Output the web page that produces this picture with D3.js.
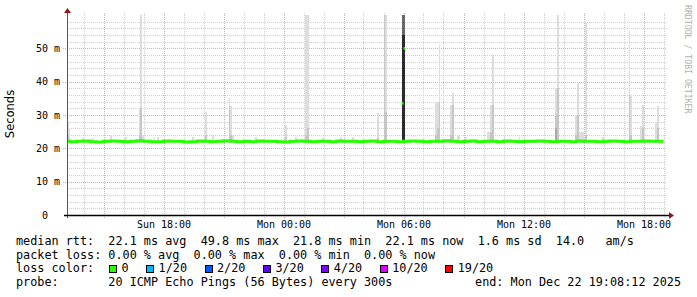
<!DOCTYPE html>
<html>
<head>
<meta charset="utf-8">
<script src="https://cdn.jsdelivr.net/npm/d3@7"></script>
<style>
body { margin: 0; background: #fff; }
text { font-family: "DejaVu Sans Mono", monospace; fill: #000; }
</style>
</head>
<body>
<svg id="chart" width="697" height="297"></svg>
<script>
// time window shown on the x axis
var rangeStart = "Sun 13:10:30";
var rangeEnd = "Mon 19:10:30";
var stepMinutes = 5;

var yTicks = [0, 10, 20, 30, 40, 50];
var xLabels = ["Sun 18:00", "Mon 00:00", "Mon 06:00", "Mon 12:00", "Mon 18:00"];

// median rtt in ms, one value per 20 minutes starting Sun 13:00
var medianStart = "Sun 13:00";
var medianEnd = "Mon 19:00";
var medianMs = [
  22.1, 22.0, 22.1, 22.2, 22.0, 21.9, 22.1, 22.2, 22.1, 22.0,
  22.1, 22.3, 22.1, 22.0, 22.0, 22.2, 22.1, 22.1, 21.9, 22.0,
  22.2, 22.1, 22.0, 22.1, 22.3, 22.1, 22.0, 22.1, 22.0, 22.2,
  22.1, 22.1, 22.0, 21.9, 22.1, 22.2, 22.1, 22.0, 22.1, 22.1,
  22.0, 22.2, 22.1, 22.1, 22.0, 22.1, 22.2, 22.0, 22.1, 22.1,
  22.0, 22.1, 22.2, 22.1, 22.0, 22.1, 22.1, 22.3, 22.1, 22.0,
  22.1, 22.2, 22.0, 22.1, 22.1, 22.0, 22.2, 22.1, 22.0, 22.1,
  22.1, 22.2, 22.1, 22.0, 22.1, 22.1, 22.0, 22.2, 22.1, 22.1,
  22.0, 22.1, 22.2, 22.1, 22.0, 22.1, 22.1, 22.2, 22.1, 22.1
];

// 5 minute medians that jump off the line
var medianJumpTime = ["Mon 06:00", "Mon 06:05"];
var medianJumpMs = [33.5, 50];

// smoke: sample end time and the top of each density band (ms), outer band first
var smokeFloorMs = 21.8;
var smokeTime = [
  "Sun 13:15", "Sun 13:20", "Sun 14:00", "Sun 14:30", "Sun 15:25", "Sun 16:10",
  "Sun 16:50", "Sun 16:55", "Sun 17:00", "Sun 17:35", "Sun 17:45", "Sun 18:05",
  "Sun 19:30", "Sun 20:05", "Sun 20:10", "Sun 20:30", "Sun 21:20", "Sun 21:25",
  "Sun 21:30", "Sun 22:40", "Mon 00:10", "Mon 00:40", "Mon 01:10", "Mon 01:15",
  "Mon 02:00", "Mon 02:55", "Mon 03:30", "Mon 04:45", "Mon 05:05", "Mon 05:10",
  "Mon 06:00", "Mon 06:05", "Mon 07:40", "Mon 07:45", "Mon 07:50", "Mon 08:25",
  "Mon 08:30", "Mon 08:45", "Mon 08:50", "Mon 09:10", "Mon 10:15", "Mon 10:20",
  "Mon 10:25", "Mon 10:30", "Mon 11:05", "Mon 11:50", "Mon 13:40", "Mon 13:45",
  "Mon 14:40", "Mon 14:45", "Mon 14:50", "Mon 14:55", "Mon 15:00", "Mon 15:10",
  "Mon 16:00", "Mon 17:20", "Mon 17:25", "Mon 17:55", "Mon 18:00", "Mon 18:05",
  "Mon 18:40", "Mon 18:45"
];
var smokeBands = [
  [28, 24], [26], [23], [23.2], [24], [23.5],
  [32, 24], [60, 32], [24], [23.5], [23.5], [24],
  [23.3], [24], [31, 24], [24], [35, 32.6], [32.6, 24],
  [24], [23.4], [27, 23.5], [23.3], [60, 24], [60, 26],
  [23.2], [23.5], [23.3], [30.5, 23], [60, 60], [60, 31],
  [60, 60, 60, 60, 54], [60, 60, 60, 60, 54], [34, 24], [34, 26], [51, 34], [33, 24],
  [36.5, 33], [24], [24], [23.5], [25], [25],
  [33, 25], [48, 33], [24], [23.3], [38, 30, 26], [60, 38],
  [30, 24], [40, 30], [25], [25], [25], [57.6, 24],
  [23.4], [55.6, 36], [36, 24], [26.6], [33, 26], [26],
  [28], [32.6, 26]
];

// legend values
var rttStats = ["22.1 ms avg", "49.8 ms max", "21.8 ms min", "22.1 ms now", "1.6 ms sd"];
var amPerSec = "14.0";
var lossStats = ["0.00 % avg", "0.00 % max", "0.00 % min", "0.00 % now"];
var lossLabels = ["0", "1/20", "2/20", "3/20", "4/20", "10/20", "19/20"];
var lossColors = ["#26ff00", "#00b8ff", "#0059ff", "#5e00ff", "#7e00ff", "#dd00ff", "#ff0000"];
var probeText = "20 ICMP Echo Pings (56 Bytes) every 300s";
var endText = "end: Mon Dec 22 19:08:12 2025";

var bandColors = ["#dddddd", "#c6c6c6", "#a8a8a8", "#686868", "#2b2b2b"];

var fullParse = d3.timeParse("%Y-%m-%d %H:%M:%S");
function parseT(s) {
  var p = s.split(" ");
  var hm = p[1].length === 5 ? p[1] + ":00" : p[1];
  return fullParse((p[0] === "Sun" ? "2025-12-21 " : "2025-12-22 ") + hm);
}

var plotLeft = 67, plotRight = 667, plotTop = 15, plotBottom = 215;

var x = d3.scaleTime().domain([parseT(rangeStart), parseT(rangeEnd)]).range([plotLeft, plotRight]);
var y = d3.scaleLinear().domain([0, 60]).range([plotBottom, plotTop]);

var svg = d3.select("#chart");

svg.append("defs").append("clipPath").attr("id", "plot")
  .append("rect").attr("x", plotLeft).attr("y", plotTop)
  .attr("width", plotRight - plotLeft).attr("height", plotBottom - plotTop);

// grid
var grid = svg.append("g").attr("shape-rendering", "crispEdges");
var hours = d3.timeHour.range(x.domain()[0], x.domain()[1]);
grid.selectAll("line.v").data(hours).enter().append("line")
  .attr("x1", function(d) { return Math.round(x(d)) + 0.5; })
  .attr("x2", function(d) { return Math.round(x(d)) + 0.5; })
  .attr("y1", 13).attr("y2", 218)
  .attr("stroke", function(d) { return d.getHours() % 3 === 0 ? "#dfa9a9" : "#cfcfcf"; })
  .attr("stroke-dasharray", "1,1");

var yMinor = d3.range(2, 60, 2);
grid.selectAll("line.h").data(yMinor).enter().append("line")
  .attr("x1", function(d) { return d % 10 === 0 ? plotLeft - 4 : plotLeft; })
  .attr("x2", plotRight)
  .attr("y1", function(d) { return Math.round(y(d)) + 0.5; })
  .attr("y2", function(d) { return Math.round(y(d)) + 0.5; })
  .attr("stroke", function(d) { return d % 10 === 0 ? "#dfa9a9" : "#cfcfcf"; })
  .attr("stroke-dasharray", "1,1");

// smoke
var plot = svg.append("g").attr("clip-path", "url(#plot)");
var smoke = plot.append("g").attr("shape-rendering", "crispEdges");
smokeTime.forEach(function(t, i) {
  var tEnd = parseT(t);
  var tStart = d3.timeMinute.offset(tEnd, -stepMinutes);
  smoke.selectAll(null).data(smokeBands[i]).enter().append("rect")
    .attr("x", x(tStart))
    .attr("width", x(tEnd) - x(tStart))
    .attr("y", function(v) { return y(v); })
    .attr("height", function(v) { return y(smokeFloorMs) - y(v); })
    .attr("fill", function(v, k) { return bandColors[k]; });
});

// median line
var medianPts = medianMs.map(function(v, i) {
  return [d3.timeMinute.offset(parseT(medianStart), i * 20), v];
});
medianPts.push([parseT(medianEnd), medianMs[medianMs.length - 1]]);
var line = d3.line()
  .x(function(d) { return x(d[0]); })
  .y(function(d) { return y(d[1]); })
  .curve(d3.curveStepAfter);
plot.append("path").datum(medianPts)
  .attr("d", line)
  .attr("fill", "none")
  .attr("stroke", lossColors[0])
  .attr("stroke-width", 3);

plot.selectAll("line.jump").data(medianJumpTime).enter().append("line")
  .attr("x1", function(t) { return x(d3.timeMinute.offset(parseT(t), -stepMinutes)); })
  .attr("x2", function(t) { return x(parseT(t)); })
  .attr("y1", function(t, i) { return y(medianJumpMs[i]); })
  .attr("y2", function(t, i) { return y(medianJumpMs[i]); })
  .attr("stroke", lossColors[0])
  .attr("stroke-width", 2.5);

// axes lines
svg.append("line").attr("x1", plotLeft + 0.5).attr("x2", plotLeft + 0.5).attr("y1", 12).attr("y2", plotBottom + 3)
  .attr("stroke", "#555").attr("shape-rendering", "crispEdges");
svg.append("line").attr("x1", plotLeft - 3).attr("x2", plotRight + 3)
  .attr("y1", plotBottom + 0.5).attr("y2", plotBottom + 0.5)
  .attr("stroke", "#000").attr("stroke-width", 1.5);
svg.append("path").attr("d", "M64,13L67.5,8L71,13Z").attr("fill", "#8b1c1c");
svg.append("path").attr("d", "M669,212L674,215.5L669,219Z").attr("fill", "#8b1c1c");

// y axis labels
var yAxis = svg.append("g").attr("transform", "translate(" + plotLeft + ",0)")
  .call(d3.axisLeft(y).tickValues(yTicks).tickSize(0).tickPadding(7)
    .tickFormat(function(d) { return d === 0 ? "0  " : d + " m"; }));
yAxis.select(".domain").remove();
yAxis.attr("font-family", null).attr("font-size", null);
yAxis.selectAll("text").style("white-space", "pre").attr("font-size", 10);

// x axis labels
var xAxis = svg.append("g").attr("transform", "translate(0," + plotBottom + ")")
  .call(d3.axisBottom(x).tickValues(xLabels.map(parseT)).tickSize(0).tickPadding(5.5)
    .tickFormat(d3.timeFormat("%a %H:%M")));
xAxis.select(".domain").remove();
xAxis.attr("font-family", null).attr("font-size", null);
xAxis.selectAll("text").attr("font-size", 10);

svg.append("text")
  .attr("transform", "translate(14,114) rotate(-90)")
  .attr("text-anchor", "middle")
  .style("font-family", "'DejaVu Sans', sans-serif")
  .attr("font-size", 11.5)
  .text("Seconds");

svg.append("text")
  .attr("transform", "translate(685,5) rotate(90)")
  .attr("font-size", 8.2)
  .style("fill", "#b0b0b0")
  .text("RRDTOOL / TOBI OETIKER");

// legend
var cw = 7.1, fs = 11.8, lx = 16;
var legend = svg.append("g").attr("font-size", fs);
function legendLine(yy, s) {
  legend.append("text").attr("x", lx).attr("y", yy).style("white-space", "pre").text(s);
}
legendLine(245, "median rtt:  " + rttStats.join("  ") + "  " + amPerSec + "   am/s");
legendLine(258.5, "packet loss: " + lossStats.join("  "));
legendLine(272.3, "loss color:");
legendLine(286, "probe:       " + probeText);
legend.append("text").attr("x", 681).attr("y", 286).attr("text-anchor", "end").text(endText);

var bx = 109;
lossLabels.forEach(function(lbl, i) {
  legend.append("rect").attr("x", bx + 0.5).attr("y", 265.5).attr("width", 7).attr("height", 7)
    .attr("fill", lossColors[i]).attr("stroke", "#000").attr("shape-rendering", "crispEdges");
  legend.append("text").attr("x", bx + 12.5).attr("y", 272.3).text(lbl);
  bx = bx + 12.5 + lbl.length * cw + 17.5;
});
</script>
</body>
</html>
